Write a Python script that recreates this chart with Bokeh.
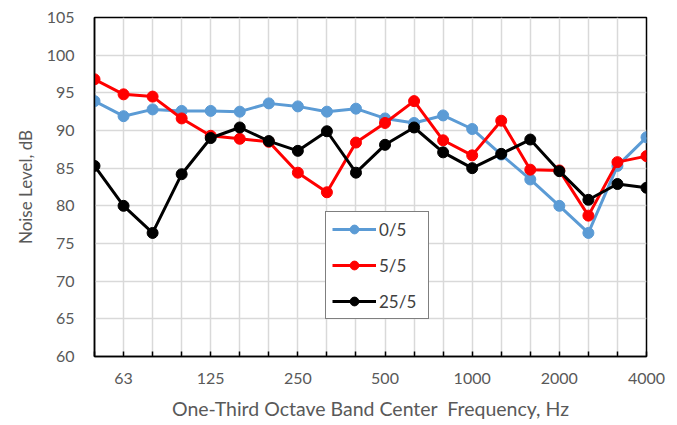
from bokeh.plotting import figure
from bokeh.models import Range1d, FixedTicker, Legend, LegendItem
from bokeh.embed import file_html
from bokeh.resources import INLINE

# One-third octave band centre frequencies (Hz)
bands = ["50", "63", "80", "100", "125", "160", "200", "250", "315", "400",
         "500", "630", "800", "1000", "1250", "1600", "2000", "2500", "3150", "4000"]
# Only the octave bands carry a printed tick label
labelled_bands = ["63", "125", "250", "500", "1000", "2000", "4000"]

# Measured noise level per band (dB)
level_0_5 = [93.9, 91.9, 92.8, 92.6, 92.6, 92.5, 93.6, 93.2, 92.5, 92.9,
             91.6, 91.0, 92.0, 90.2, 86.8, 83.5, 80.0, 76.4, 85.3, 89.1]
level_5_5 = [96.8, 94.8, 94.5, 91.6, 89.3, 88.9, 88.5, 84.4, 81.8, 88.4,
             91.0, 93.9, 88.7, 86.7, 91.3, 84.8, 84.7, 78.7, 85.8, 86.6]
level_25_5 = [85.3, 80.0, 76.4, 84.2, 89.0, 90.4, 88.6, 87.3, 89.9, 84.4,
              88.1, 90.4, 87.1, 85.0, 86.9, 88.8, 84.6, 80.8, 82.9, 82.4]

series_names = ["0/5", "5/5", "25/5"]
series_colors = ["#5B9BD5", "#FF0000", "#000000"]

FONT = "Lato"
TEXT_GREY = "#595959"

x = list(range(len(bands)))

p = figure(width=677, height=425, output_backend="svg", toolbar_location=None,
           x_range=Range1d(0, len(bands) - 1), y_range=Range1d(60, 105),
           min_border_left=94, min_border_right=31,
           min_border_top=17, min_border_bottom=69)

p.background_fill_color = "white"
p.border_fill_color = "white"
p.outline_line_color = "black"
p.outline_line_width = 1.5
p.outline_line_alpha = 1.0

# x axis: a tick at every band, labels only on octave bands
p.xaxis.ticker = FixedTicker(ticks=x)
p.xaxis.major_label_overrides = {i: (b if b in labelled_bands else "") for i, b in zip(x, bands)}
p.xaxis.major_tick_in = 5
p.xaxis.major_tick_out = 0
p.xaxis.minor_tick_line_color = None
p.xaxis.axis_line_color = "black"
p.xaxis.axis_line_width = 1.5
p.xaxis.major_tick_line_color = "black"
p.xaxis.major_tick_line_width = 1.5
p.xaxis.major_label_standoff = 16
p.xaxis.axis_label = "One-Third Octave Band Center\u00a0 Frequency, Hz"
p.xaxis.axis_label_standoff = 10
p.xaxis.axis_label_text_font_size = "19.5px"

# y axis
p.yaxis.ticker = FixedTicker(ticks=list(range(60, 106, 5)))
p.yaxis.major_tick_in = 0
p.yaxis.major_tick_out = 0
p.yaxis.minor_tick_line_color = None
p.yaxis.axis_line_color = "black"
p.yaxis.axis_line_width = 1.5
p.yaxis.major_label_standoff = 20
p.yaxis.axis_label = "Noise Level, dB"
p.yaxis.axis_label_standoff = 8
p.yaxis.axis_label_text_font_size = "17px"

for ax in (p.xaxis, p.yaxis):
    ax.major_label_text_font = FONT
    ax.major_label_text_font_size = "16px"
    ax.major_label_text_color = TEXT_GREY
    ax.axis_label_text_font = FONT
    ax.axis_label_text_font_style = "normal"
    ax.axis_label_text_color = TEXT_GREY

p.xgrid.grid_line_color = "#D9D9D9"
p.xgrid.grid_line_width = 1.5
p.ygrid.grid_line_color = "#D9D9D9"
p.ygrid.grid_line_width = 1.5

items = []
for name, values, color in zip(series_names, [level_0_5, level_5_5, level_25_5], series_colors):
    ln = p.line(x, values, line_color=color, line_width=3)
    mk = p.scatter(x, values, size=11, fill_color=color, line_color=color)
    items.append(LegendItem(label=name, renderers=[ln, mk]))

legend = Legend(items=items, location=(231, 37))
legend.border_line_color = "black"
legend.border_line_width = 1.5
legend.background_fill_color = "white"
legend.background_fill_alpha = 1.0
legend.label_text_font = FONT
legend.label_text_font_size = "17px"
legend.label_text_color = "#404040"
legend.glyph_width = 44
legend.glyph_height = 22
legend.label_height = 22
legend.label_width = 43
legend.label_standoff = 3
legend.spacing = 14
legend.padding = 6
legend.margin = 0
p.add_layout(legend)

open("out.html", "w").write(file_html(p, INLINE))
